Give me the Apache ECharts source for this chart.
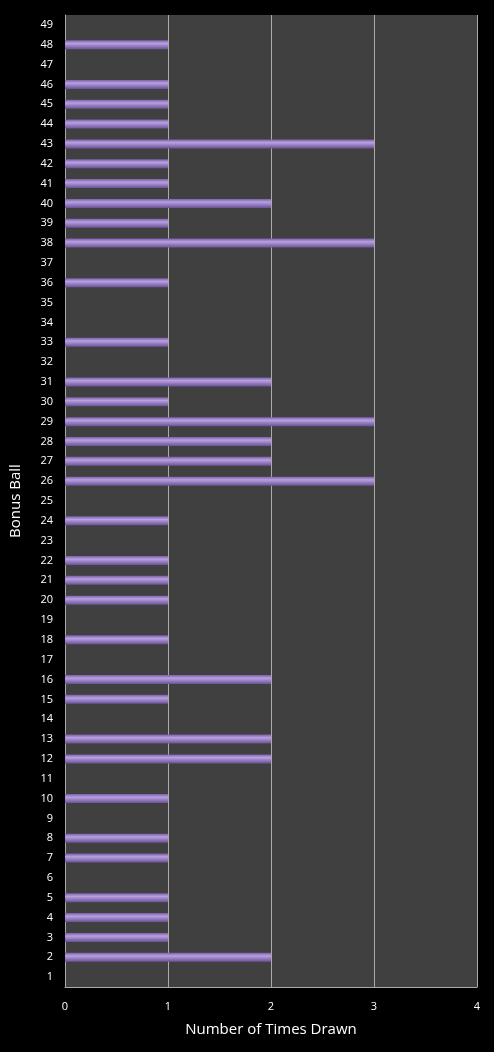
<!DOCTYPE html><html><head><meta charset="utf-8"><script src="https://cdn.jsdelivr.net/npm/echarts@6/dist/echarts.min.js"></script>
<style>html,body{margin:0;background:#000}#c{width:494px;height:1052px}</style></head><body><div id="c"></div><script>
const categories=[];for(let i=1;i<=49;i++)categories.push(String(i));
const timesDrawn=[0,2,1,1,1,0,1,1,0,1,0,2,2,0,1,2,0,1,0,1,1,1,0,1,0,3,2,2,3,1,2,0,1,0,0,1,0,3,1,2,1,1,3,1,1,1,0,1,0];
const c=echarts.init(document.getElementById('c'));
c.setOption({backgroundColor:'#000',animation:false,
grid:{left:65,right:17,top:15,bottom:65,show:true,backgroundColor:'#404040',borderWidth:0},
xAxis:{type:'value',min:0,max:4,interval:1,name:'Number of Times Drawn',nameLocation:'middle',nameGap:35,
nameTextStyle:{color:'#fff',fontSize:15,fontFamily:'Open Sans'},
axisLabel:{color:'#fff',fontSize:11,margin:14,fontFamily:'Open Sans'},axisLine:{show:true,lineStyle:{color:'#aaa'}},axisTick:{show:false},
splitLine:{lineStyle:{color:'#aaa',width:1}}},
yAxis:{type:'category',data:categories,name:'Bonus Ball',nameLocation:'middle',nameGap:42,
nameTextStyle:{color:'#fff',fontSize:15,fontFamily:'Open Sans'},
axisLabel:{color:'#fff',fontSize:11,margin:12,fontFamily:'Open Sans'},axisLine:{show:true,lineStyle:{color:'#aaa'}},axisTick:{show:false}},
series:[{type:'bar',data:timesDrawn,barWidth:9,
itemStyle:{color:new echarts.graphic.LinearGradient(0,0,0,1,[{offset:0,color:'#7a60a8'},{offset:0.35,color:'#b9a0e0'},{offset:1,color:'#6a5298'}])}}]});
</script></body></html>
